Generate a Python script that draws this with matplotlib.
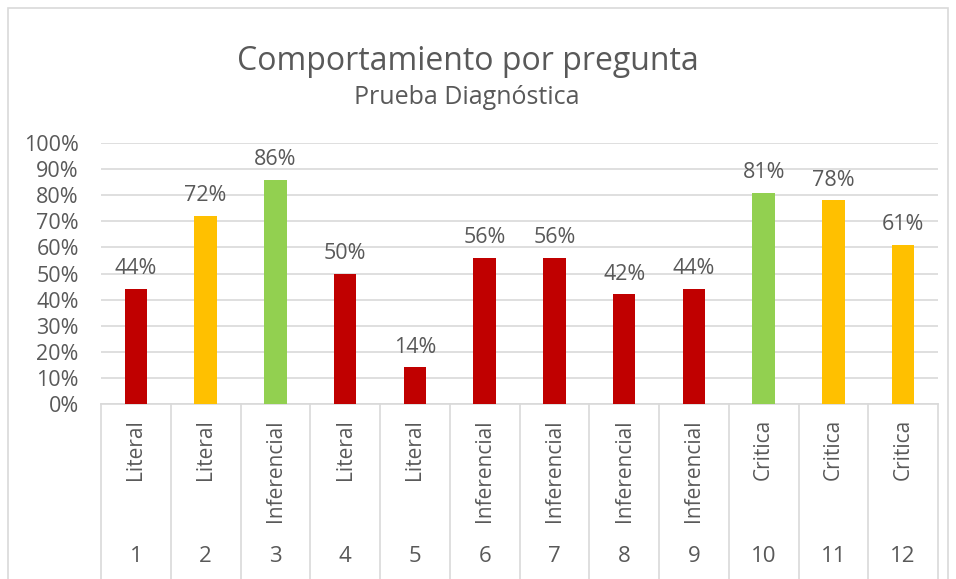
import matplotlib.pyplot as plt
from matplotlib.patches import Rectangle
from matplotlib.lines import Line2D

# --- data ---
preguntas = ['1', '2', '3', '4', '5', '6', '7', '8', '9', '10', '11', '12']
tipos = ['Literal', 'Literal', 'Inferencial', 'Literal', 'Literal', 'Inferencial',
         'Inferencial', 'Inferencial', 'Inferencial', 'Critica', 'Critica', 'Critica']
valores = [44, 72, 86, 50, 14, 56, 56, 42, 44, 81, 78, 61]
nivel = ['bajo', 'medio', 'alto', 'bajo', 'bajo', 'bajo',
         'bajo', 'bajo', 'bajo', 'alto', 'medio', 'medio']

COLORES = {'bajo': '#C00000', 'medio': '#FFC000', 'alto': '#92D050'}
TXT = '#595959'
GRID = '#D9D9D9'

plt.rcParams['font.family'] = ['Open Sans', 'DejaVu Sans']

W, H = 956, 579
fig = plt.figure(figsize=(W / 100, H / 100), dpi=100)

# plot area in pixel coords
x0, x1, ytop, ybot = 101, 938, 143, 404
ax = fig.add_axes([x0 / W, 1 - ybot / H, (x1 - x0) / W, (ybot - ytop) / H])

x = list(range(len(valores)))
ax.bar(x, valores, width=0.32, color=[COLORES[n] for n in nivel], zorder=3)
for xi, v in zip(x, valores):
    ax.annotate(f'{v}%', xy=(xi, v), xytext=(0, 7), textcoords='offset points',
                ha='center', va='bottom', fontsize=15.5, color=TXT)

ax.set_xlim(-0.5, len(valores) - 0.5)
ax.set_ylim(0, 100)
ax.set_yticks(range(0, 101, 10))
ax.set_yticklabels([f'{t}%' for t in range(0, 101, 10)], fontsize=15.5, color=TXT)
ax.tick_params(axis='y', length=0, pad=16)
ax.set_xticks([])
ax.grid(axis='y', color=GRID, linewidth=1.2, zorder=0)
for s in ['top', 'right', 'left']:
    ax.spines[s].set_visible(False)
ax.spines['bottom'].set_color(GRID)
ax.spines['bottom'].set_linewidth(1.2)

# multi-level category axis
trans = ax.get_xaxis_transform()
bottom = -(H - ybot + 5) / (ybot - ytop)
for i in range(len(valores) + 1):
    ax.add_line(Line2D([i - 0.5, i - 0.5], [0, bottom], transform=trans,
                       color=GRID, linewidth=1.2, clip_on=False))
for xi, (t, p) in enumerate(zip(tipos, preguntas)):
    ax.text(xi, -(419 - ybot) / (ybot - ytop), t, transform=trans, rotation=90,
            ha='center', va='top', fontsize=15, color=TXT)
    ax.text(xi, -(557 - ybot) / (ybot - ytop), p, transform=trans,
            ha='center', va='center', fontsize=16, color=TXT)

# titles
fig.text(468 / W, 1 - 61 / H, 'Comportamiento por pregunta', ha='center', va='center',
         fontsize=23, color=TXT)
fig.text(467 / W, 1 - 98 / H, 'Prueba Diagnóstica', ha='center', va='center',
         fontsize=18, color=TXT)

# chart border
fig.patches.append(Rectangle((8 / W, -0.02), (948 - 8) / W, 1 - 8 / H + 0.02,
                             transform=fig.transFigure, fill=False,
                             edgecolor=GRID, linewidth=1.2))

fig.savefig('out.png', dpi=100)
